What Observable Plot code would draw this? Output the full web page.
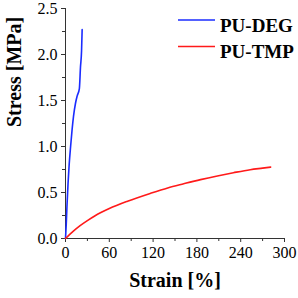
<!DOCTYPE html>
<html><head><meta charset="utf-8">
<script src="https://cdn.jsdelivr.net/npm/d3@7"></script>
<script src="https://cdn.jsdelivr.net/npm/@observablehq/plot@0.6"></script>
<style>
body{margin:0;background:#fff;}
#wrap{position:relative;width:298px;height:298px;}
#legend{position:absolute;left:0;top:0;}
svg text{font-family:"Liberation Serif","Times New Roman",serif;}
</style></head>
<body><div id="wrap"></div>
<script>
const degStrain = [0, 1, 2, 3.5, 5, 7, 9, 11, 13.7, 16, 19, 20.5, 22, 22.8];
const degStress = [0, 0.15, 0.35, 0.6, 0.8, 1.0, 1.18, 1.33, 1.47, 1.55, 1.63, 1.86, 2.04, 2.27];
const tmpStrain = [0, 10, 20, 30, 40, 60, 85, 116, 140, 162, 185, 208, 230, 253, 270, 281];
const tmpStress = [0, 0.075, 0.14, 0.195, 0.245, 0.325, 0.405, 0.49, 0.55, 0.595, 0.64, 0.68, 0.715, 0.748, 0.765, 0.776];
const series = ["PU-DEG", "PU-TMP"];
const colors = ["#1a2cff", "#ff1a1a"];
const xTicks = [0, 60, 120, 180, 240, 300];
const xMinor = [30, 90, 150, 210, 270];
const yTicks = [0, 0.5, 1.0, 1.5, 2.0, 2.5];
const yMinor = [0.25, 0.75, 1.25, 1.75, 2.25];

const data = [
  ...degStrain.map((s, i) => ({series: series[0], strain: s, stress: degStress[i]})),
  ...tmpStrain.map((s, i) => ({series: series[1], strain: s, stress: tmpStress[i]}))
];

const font = "Liberation Serif";
const chart = Plot.plot({
  width: 298, height: 298,
  marginLeft: 65, marginRight: 14, marginTop: 8, marginBottom: 60,
  style: {fontFamily: font, fontSize: "16px", color: "#000", background: "#fff"},
  x: {domain: [0, 300]},
  y: {domain: [0, 2.5]},
  color: {domain: series, range: colors},
  marks: [
    Plot.axisX({ticks: xMinor, tickSize: 3, tickFormat: () => "", label: null, stroke: "#333"}),
    Plot.axisX({ticks: xTicks, tickSize: 4, tickPadding: 4, tickFormat: d => d, label: null, fontSize: 16, fontFamily: font, fontVariant: "normal", stroke: "#333"}),
    Plot.axisY({ticks: yMinor, tickSize: 3, tickFormat: () => "", label: null, stroke: "#333"}),
    Plot.axisY({ticks: yTicks, tickSize: 4, tickPadding: 4, tickFormat: d3.format(".1f"), label: null, fontSize: 16, fontFamily: font, fontVariant: "normal", stroke: "#333"}),
    Plot.ruleX([0], {stroke: "#333", strokeWidth: 1}),
    Plot.ruleY([0], {stroke: "#333", strokeWidth: 1}),
    Plot.line(data, {x: "strain", y: "stress", z: "series", stroke: "series", strokeWidth: 1.6, curve: "monotone-x"}),
    Plot.text(["Strain [%]"], {frameAnchor: "bottom", dy: 48.5, fontWeight: "bold", fontSize: 20, fontFamily: font}),
    Plot.text(["Stress [MPa]"], {frameAnchor: "left", dx: -51, dy: 3.5, rotate: -90, fontWeight: "bold", fontSize: 20, fontFamily: font})
  ]
});
const wrap = document.getElementById("wrap");
wrap.appendChild(chart);

// legend overlay
const ns = "http://www.w3.org/2000/svg";
const lg = document.createElementNS(ns, "svg");
lg.setAttribute("id", "legend");
lg.setAttribute("width", 298);
lg.setAttribute("height", 70);
series.forEach((s, i) => {
  const y = 20 + i * 26.5;
  const l = document.createElementNS(ns, "line");
  l.setAttribute("x1", 178); l.setAttribute("x2", 215);
  l.setAttribute("y1", y); l.setAttribute("y2", y);
  l.setAttribute("stroke", colors[i]); l.setAttribute("stroke-width", 1.6);
  lg.appendChild(l);
  const t = document.createElementNS(ns, "text");
  t.setAttribute("x", 220); t.setAttribute("y", y + 11.5);
  t.setAttribute("font-family", font); t.setAttribute("font-weight", "bold");
  t.setAttribute("font-size", 19);
  t.textContent = s;
  lg.appendChild(t);
});
wrap.appendChild(lg);
</script></body></html>
